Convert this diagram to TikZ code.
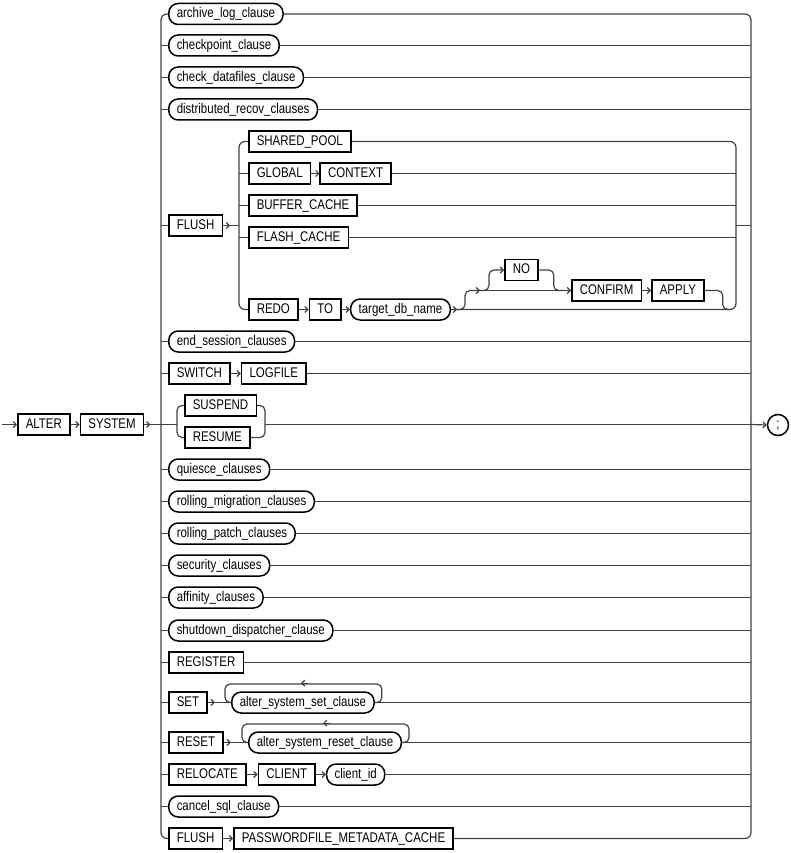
\documentclass[tikz,border=0pt]{standalone}
\usepackage{fontspec}
\newfontfamily\railfont[FakeStretch=0.82]{Liberation Sans}
\usepackage{tikz}
\usetikzlibrary{
  calc,
  positioning,
  arrows.meta
}

\begin{document}
\begin{tikzpicture}[
  x=1pt, y=-1pt,
  node distance=9pt,
  rail/.style={line width=1.2pt, draw=black!75},
  arr/.style={-{Straight Barb[length=3pt,width=6pt]}},
  kw/.style={
    draw=black,
    line width=1.5pt,
    rectangle,
    inner xsep=8pt,
    inner ysep=0pt,
    minimum height=21pt,
    text height=10pt,
    text depth=2.6pt,
    font=\railfont\fontsize{14}{16}\selectfont
  },
  nt/.style={kw, rounded corners=9.5pt}
]
\useasboundingbox (0,0) rectangle (791,853);

  % entry and exit
  \coordinate (start) at (2,424.5);
  \coordinate (L) at (161,424.5);
  \coordinate (R) at (751,424.5);
  \node[kw, anchor=west] (alter) at (17,424.5) {ALTER};
  \node[kw, right=of alter] (system) {SYSTEM};
  \node[kw, circle, inner sep=0pt, minimum size=21pt] (semi) at (778,425) {;};

  % one-item rows
  \foreach \nm/\txt/\yy in {
    arch/archive\_log\_clause/14,
    ckpt/checkpoint\_clause/45.5,
    chkdf/check\_datafiles\_clause/77.5,
    distr/distributed\_recov\_clauses/109.5,
    endsess/end\_session\_clauses/341.5,
    quiesce/quiesce\_clauses/469.5,
    rollmig/rolling\_migration\_clauses/501.5,
    rollpatch/rolling\_patch\_clauses/533.5,
    security/security\_clauses/565.5,
    affinity/affinity\_clauses/597.5,
    shutdown/shutdown\_dispatcher\_clause/630.5,
    cancel/cancel\_sql\_clause/806.5
  }{\node[nt, anchor=west] (\nm) at (168,\yy) {\txt};}
  \node[kw, anchor=west] (register) at (168,662.5) {REGISTER};

  % FLUSH group
  \node[kw, anchor=west] (flush) at (168,225.5) {FLUSH};
  \coordinate (FL) at (239,225.5);
  \coordinate (FR) at (736,225.5);
  \node[kw, anchor=west] (shared) at (248,141.5) {SHARED\_POOL};
  \node[kw, anchor=west] (global) at (248,173.5) {GLOBAL};
  \node[kw, right=8pt of global] (context) {CONTEXT};
  \node[kw, anchor=west] (buffer) at (248,205.5) {BUFFER\_CACHE};
  \node[kw, anchor=west] (flash) at (248,237.5) {FLASH\_CACHE};
  \node[kw, anchor=west] (redo) at (248,309.5) {REDO};
  \node[kw, right=10pt of redo] (to) {TO};
  \node[nt, right=8pt of to] (target) {target\_db\_name};
  \node[kw, anchor=west] (no) at (504,270) {NO};
  \node[kw, anchor=west] (confirm) at (571,290.5) {CONFIRM};
  \node[kw, right=of confirm] (apply) {APPLY};
  \coordinate (b3) at (480,290.5);

  % other rows
  \node[kw, anchor=west] (switch) at (168,373.5) {SWITCH};
  \node[kw, right=10pt of switch] (logfile) {LOGFILE};
  \node[kw, anchor=west] (suspend) at (184,405.5) {SUSPEND};
  \node[kw, anchor=west] (resume) at (184,437.5) {RESUME};
  \coordinate (SL) at (177,424.5);
  \coordinate (SR) at (265,424.5);
  \node[kw, anchor=west] (set) at (168,702.5) {SET};
  \node[nt, anchor=west] (setc) at (231,702.5) {alter\_system\_set\_clause};
  \node[kw, anchor=west] (reset) at (168,742.5) {RESET};
  \node[nt, anchor=west] (resetc) at (248,742.5) {alter\_system\_reset\_clause};
  \node[kw, anchor=west] (relocate) at (168,774.5) {RELOCATE};
  \node[kw, right=11pt of relocate] (client) {CLIENT};
  \node[nt, right=10pt of client] (clientid) {client\_id};
  \node[kw, anchor=west] (flushpw) at (168,838.5) {FLUSH};
  \node[kw, right=10pt of flushpw] (pwcache) {PASSWORDFILE\_METADATA\_CACHE};

\begin{scope}[rail]
  % main trunks
  \draw[arr] (start) -- (alter.west);
  \draw[arr] (alter.east) -- (system.west);
  \draw (system.east) -- (L);
  \draw[arr] (system.east) -- ++(6,0);
  \draw[rounded corners=6pt] (arch.west) -| (L) |- (flushpw.west);
  \draw[rounded corners=6pt] (arch.east) -| (R) |- (pwcache.east);
  \draw[arr] (R) -- (semi.west);

  \foreach \a in {ckpt, chkdf, distr, flush, endsess, switch, quiesce, rollmig,
    rollpatch, security, affinity, shutdown, register, set, reset, relocate, cancel}
    {\draw (\a.west -| L) -- (\a.west);}
  \foreach \b in {ckpt, chkdf, distr, endsess, logfile, quiesce, rollmig,
    rollpatch, security, affinity, shutdown, register, setc, resetc, clientid, cancel}
    {\draw (\b.east) -- (\b.east -| R);}

  % FLUSH group
  \draw (flush.east) -- (FL);
  \draw[arr] (flush.east) -- ++(7,0);
  \draw[rounded corners=6pt] (shared.west) -| (FL) |- (redo.west);
  \foreach \a in {global, buffer, flash} {\draw (\a.west -| FL) -- (\a.west);}
  \draw[rounded corners=6pt] (shared.east) -| (FR) |- (target.east);
  \foreach \b in {context, buffer, flash} {\draw (\b.east) -- (\b.east -| FR);}
  \draw (FR) -- (FR -| R);
  \draw[arr] (global.east) -- (context.west);
  \draw[arr] (redo.east) -- (to.west);
  \draw[arr] (to.east) -- (target.west);
  \draw[arr] (target.east) -- ++(6,0);
  \draw[arr, rounded corners=5pt] (target.east) ++(6,0) -- ++(8,0) |- (b3);
  \draw[arr] (b3) -- (confirm.west);
  \draw[arr, rounded corners=5pt] (b3) -- ++(9,0) |- (no.west);
  \draw[rounded corners=5pt] (no.east) -- ++(15,0) |- (confirm.west);
  \draw[arr] (confirm.east) -- (apply.west);
  \draw[rounded corners=5pt] (apply.east) -- ++(18,0) -- ++(0,19) -- ++(8,0);

  % SWITCH, SUSPEND / RESUME
  \draw[arr] (switch.east) -- (logfile.west);
  \draw (L) -- (SL);
  \draw[rounded corners=5pt] (suspend.west) -| (SL) |- (resume.west);
  \draw[rounded corners=5pt] (suspend.east) -| (SR) |- (resume.east);
  \draw (SR) -- (R);

  % SET / RESET loops
  \draw (set.east) -- (setc.west);
  \draw[arr] (set.east) -- ++(7,0);
  \draw (reset.east) -- (resetc.west);
  \draw[arr] (reset.east) -- ++(7,0);
  \foreach \c in {setc, resetc}{
    \draw[rounded corners=5pt] (\c.east) -- ++(7,0) |- ($(\c.west)+(-6,-18.5)$) |- (\c.west);
    \draw[arr] (\c.north) ++(5,-8) -- ++(-7,0);
  }

  % RELOCATE, FLUSH PASSWORDFILE
  \draw[arr] (relocate.east) -- (client.west);
  \draw[arr] (client.east) -- (clientid.west);
  \draw[arr] (flushpw.east) -- (pwcache.west);
\end{scope}

\end{tikzpicture}
\end{document}
